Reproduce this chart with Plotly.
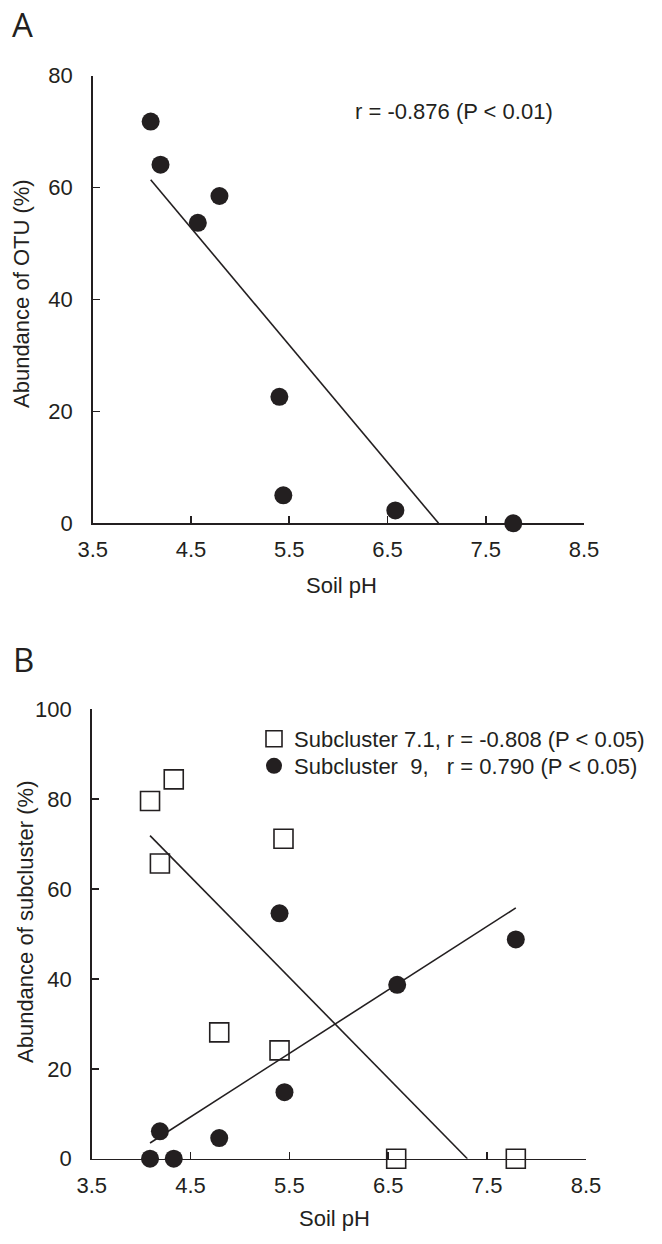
import plotly.graph_objects as go

# ---------------- data ----------------
# Panel A: abundance of OTU vs soil pH
a_ph = [4.09, 4.19, 4.57, 4.79, 5.40, 5.44, 6.58, 7.78]
a_otu = [71.8, 64.1, 53.7, 58.5, 22.6, 5.0, 2.3, 0.0]
a_fit_ph = [4.09, 7.02]
a_fit_val = [61.4, 0.0]
a_label = "r = -0.876 (P < 0.01)"

# Panel B: abundance of subclusters vs soil pH
b71_ph = [4.09, 4.19, 4.33, 4.79, 5.40, 5.44, 6.58, 7.79]
b71_val = [79.6, 65.7, 84.4, 28.1, 24.1, 71.2, 0.0, 0.0]
b71_fit_ph = [4.09, 7.30]
b71_fit_val = [71.9, 0.0]

b9_ph = [4.09, 4.19, 4.33, 4.79, 5.40, 5.45, 6.59, 7.79]
b9_val = [0.0, 6.1, 0.0, 4.6, 54.6, 14.8, 38.7, 48.8]
b9_fit_ph = [4.09, 7.79]
b9_fit_val = [3.5, 55.8]

b71_name = "Subcluster 7.1, r = -0.808 (P < 0.05)"
b9_name = "Subcluster\u00a0\u00a09,\u00a0\u00a0\u00a0r = 0.790 (P < 0.05)"

x_ticks = [3.5, 4.5, 5.5, 6.5, 7.5, 8.5]
x_ticktext = ["3.5", "4.5", "5.5", "6.5", "7.5", "8.5"]
a_yticks = [0, 20, 40, 60, 80]
b_yticks = [0, 20, 40, 60, 80, 100]

# ---------------- style ----------------
INK = "#231f20"
FONT = "Liberation Sans, Arial, sans-serif"
W, H = 662, 1244
FS = 22

fig = go.Figure()

# Panel A
fig.add_trace(go.Scatter(x=a_fit_ph, y=a_fit_val, mode="lines",
                         line=dict(color=INK, width=1.6),
                         xaxis="x", yaxis="y", showlegend=False, hoverinfo="skip"))
fig.add_trace(go.Scatter(x=a_ph, y=a_otu, mode="markers",
                         marker=dict(symbol="circle", size=18, color=INK, line=dict(width=0)),
                         xaxis="x", yaxis="y", showlegend=False, cliponaxis=False))

# Panel B
fig.add_trace(go.Scatter(x=b71_fit_ph, y=b71_fit_val, mode="lines",
                         line=dict(color=INK, width=1.6),
                         xaxis="x2", yaxis="y2", showlegend=False, hoverinfo="skip"))
fig.add_trace(go.Scatter(x=b9_fit_ph, y=b9_fit_val, mode="lines",
                         line=dict(color=INK, width=1.6),
                         xaxis="x2", yaxis="y2", showlegend=False, hoverinfo="skip"))
fig.add_trace(go.Scatter(x=b71_ph, y=b71_val, mode="markers", name=b71_name,
                         marker=dict(symbol="square-open", size=19, color=INK, line=dict(width=1.6, color=INK)),
                         xaxis="x2", yaxis="y2", cliponaxis=False, legend="legend"))
fig.add_trace(go.Scatter(x=b9_ph, y=b9_val, mode="markers", name=b9_name,
                         marker=dict(symbol="circle", size=18, color=INK, line=dict(width=0)),
                         xaxis="x2", yaxis="y2", cliponaxis=False, legend="legend2"))

def px_x(p):
    return p / W

def px_y(p):
    return 1 - p / H

axis_common = dict(showline=True, linecolor=INK, linewidth=1.6, ticks="inside",
                   ticklen=7, tickwidth=1.6, tickcolor=INK, showgrid=False, zeroline=False,
                   tickfont=dict(family=FONT, size=FS, color=INK), layer="below traces",
                   mirror=False, automargin=False)

legend_common = dict(xanchor="left", yanchor="middle", bgcolor="rgba(0,0,0,0)",
                     font=dict(family=FONT, size=FS, color=INK), itemsizing="trace",
                     borderwidth=0)

fig.update_layout(
    template="none",
    width=W, height=H,
    margin=dict(l=0, r=0, t=0, b=0, pad=0),
    paper_bgcolor="white", plot_bgcolor="white",
    font=dict(family=FONT, size=FS, color=INK),
    xaxis=dict(domain=[px_x(92.7), px_x(584)], range=[3.5, 8.5], anchor="y",
               tickvals=x_ticks, ticktext=x_ticktext, ticklabelstandoff=6, **axis_common),
    yaxis=dict(domain=[px_y(523.3), px_y(75.7)], range=[0, 80], anchor="x",
               tickvals=a_yticks, ticklabelstandoff=14, **axis_common),
    xaxis2=dict(domain=[px_x(91.7), px_x(586)], range=[3.5, 8.5], anchor="y2",
                tickvals=x_ticks, ticktext=x_ticktext, ticklabelstandoff=6, **axis_common),
    yaxis2=dict(domain=[px_y(1158.7), px_y(709.3)], range=[0, 100], anchor="x2",
                tickvals=b_yticks, ticklabelstandoff=14, **axis_common),
    showlegend=True,
    legend=dict(x=px_x(254), y=px_y(739), **legend_common),
    legend2=dict(x=px_x(254), y=px_y(766), **legend_common),
)

annos = [
    dict(text="A", x=px_x(11), y=px_y(25), xanchor="left", yanchor="middle",
         font=dict(family="Open Sans, sans-serif", size=33, color=INK), borderpad=0),
    dict(text="B", x=px_x(12), y=px_y(659), xanchor="left", yanchor="middle",
         font=dict(family="Open Sans, sans-serif", size=33, color=INK), borderpad=0),
    dict(text=a_label, x=px_x(353), y=px_y(111), xanchor="left", yanchor="middle",
         font=dict(family=FONT, size=FS, color=INK)),
    dict(text="Abundance of OTU (%)", x=px_x(22), y=px_y(294), textangle=-90,
         xanchor="center", yanchor="middle", font=dict(family=FONT, size=FS, color=INK)),
    dict(text="Soil pH", x=px_x(341), y=px_y(585), xanchor="center", yanchor="middle",
         font=dict(family=FONT, size=FS, color=INK)),
    dict(text="Abundance of subcluster (%)", x=px_x(25), y=px_y(922), textangle=-90,
         xanchor="center", yanchor="middle", font=dict(family=FONT, size=FS, color=INK)),
    dict(text="Soil pH", x=px_x(335), y=px_y(1218), xanchor="center", yanchor="middle",
         font=dict(family=FONT, size=FS, color=INK)),
]
for a in annos:
    a.update(xref="paper", yref="paper", showarrow=False)
fig.update_layout(annotations=annos)

fig.write_html(
    "out.html",
    config={"displayModeBar": False, "staticPlot": True},
    post_script="document.body.style.margin='0';document.body.style.overflow='hidden';",
)
